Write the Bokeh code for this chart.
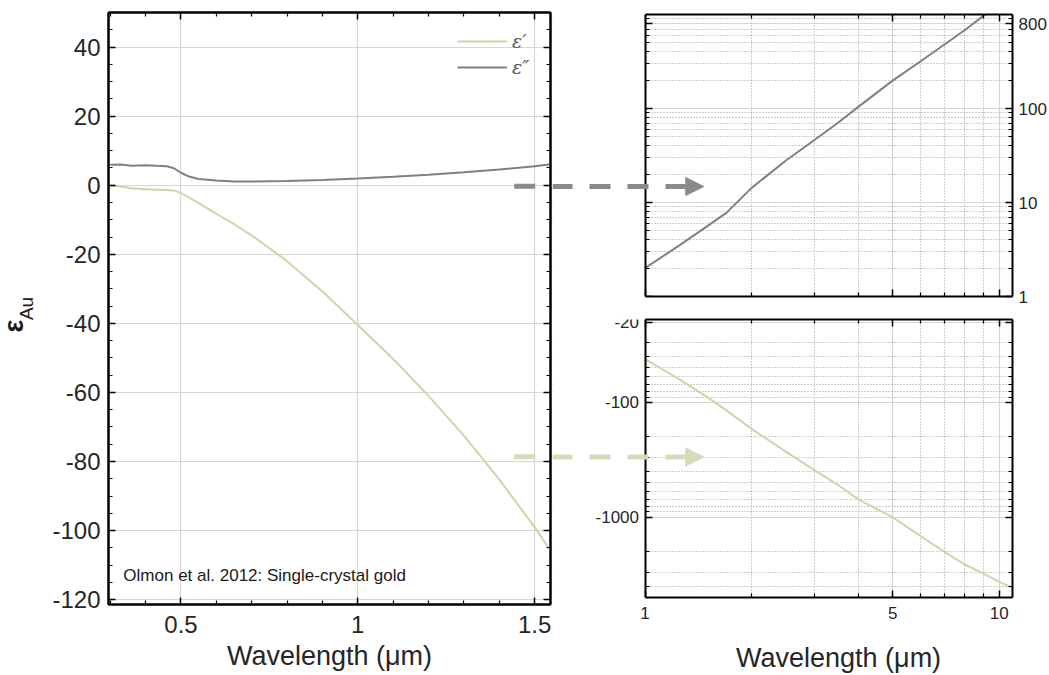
from bokeh.plotting import figure
from bokeh.layouts import row, column
from bokeh.models import (Range1d, FixedTicker, SingleIntervalTicker, LinearAxis, LogAxis,
                          Legend, LegendItem, Label, Arrow, NormalHead, CustomJSTickFormatter,
                          Title, BoxAnnotation, Div)
from bokeh.embed import file_html
from bokeh.resources import INLINE

# ---- Olmon et al. 2012, single-crystal gold -------------------------------
# visible / near-IR part (linear axes)
wl_vis = [0.30, 0.33, 0.36, 0.40, 0.43, 0.46, 0.48, 0.50, 0.52, 0.55, 0.60, 0.65,
          0.70, 0.80, 0.90, 1.00, 1.10, 1.20, 1.30, 1.40, 1.50, 1.55]
eps1_vis = [0.0, -0.4, -0.9, -1.2, -1.3, -1.4, -1.5, -2.3, -3.4, -5.2, -8.3, -11.3,
            -14.5, -22.0, -30.8, -40.5, -50.3, -61.0, -72.5, -85.2, -99.0, -106.6]
eps2_vis = [5.9, 6.0, 5.6, 5.8, 5.6, 5.5, 4.9, 3.6, 2.6, 1.8, 1.35, 1.1,
            1.05, 1.2, 1.5, 1.95, 2.45, 3.05, 3.75, 4.55, 5.5, 6.1]

# mid-IR part (log axes)
wl_ir = [1.0, 1.25, 1.5, 1.7, 2.0, 2.5, 3.0, 3.5, 4.0, 5.0, 6.0, 7.0, 8.0, 9.0, 10.0, 11.0]
eps2_ir = [2.0, 3.5, 5.6, 7.8, 14.3, 28, 46, 70, 104, 198, 318, 480, 685, 960, 1300, 1700]
eps1_ir = [-42, -63, -90, -118, -170, -270, -387, -522, -700, -1000, -1460, -2000,
           -2580, -3080, -3650, -4150]

# tick positions
vis_x_major = [0.5, 1.0, 1.5]
vis_x_minor = [0.3, 0.4, 0.6, 0.7, 0.8, 0.9, 1.1, 1.2, 1.3, 1.4]
ir_x_major = [1, 5, 10]
ir_x_minor = [2, 3, 4, 6, 7, 8, 9]
eps2_y_major = [1, 10, 100, 800]
eps2_y_minor = [2, 3, 4, 5, 6, 7, 8, 9, 10, 20, 30, 40, 50, 60, 70, 80, 90, 100,
                200, 300, 400, 500, 600, 700, 800, 900]
eps1_y_major = [20, 100, 1000]
eps1_y_minor = [30, 40, 50, 60, 70, 80, 90, 200, 300, 400, 500, 600, 700, 800, 900,
                2000, 3000, 4000]

OLIVE = "#cfd5a7"
OLIVE_ARROW = "#d6dbb9"
GRAY = "#808080"
GRAY_ARROW = "#8a8a8a"
FONT = "Liberation Sans"
TXT = "#262626"

IR_RANGE = (0.548, 10.9)   # part of the frame left of x = 1 is the gap holding the arrows
IR_BOUNDS = (1, 10.9)


def style_axis(ax, size, labels=True, standoff=6):
    ax.axis_line_color = "black"
    ax.axis_line_width = 2
    ax.major_tick_in = 7
    ax.major_tick_out = 0
    ax.minor_tick_in = 4
    ax.minor_tick_out = 0
    ax.major_tick_line_color = "black"
    ax.minor_tick_line_color = "black"
    ax.major_tick_line_width = 1.5
    ax.minor_tick_line_width = 1.2
    ax.major_label_text_font = FONT
    if labels:
        ax.major_label_text_color = TXT
        ax.major_label_text_font_size = f"{size}px"
        ax.major_label_standoff = standoff
    else:
        ax.major_label_text_color = None
        ax.major_label_text_font_size = "1px"
        ax.major_label_standoff = 0
    ax.axis_label_text_font = FONT
    ax.axis_label_text_font_style = "normal"
    ax.axis_label_text_color = TXT


def style_grid(p):
    for g in (p.xgrid, p.ygrid):
        g.grid_line_color = "#d6d6d6"
        g.grid_line_width = 1.2
        g.minor_grid_line_color = "#9c9c9c"
        g.minor_grid_line_dash = "1 2"
        g.minor_grid_line_width = 1


plain = CustomJSTickFormatter(code="return tick.toString();")
negated = CustomJSTickFormatter(code="return '-' + tick.toString();")

# ---------------------------------------------------------------- left panel
vx_ticker = FixedTicker(ticks=vis_x_major, minor_ticks=vis_x_minor)
vy_ticker = SingleIntervalTicker(interval=20, num_minor_ticks=4)

left = figure(width=552, height=675, x_range=Range1d(0.295, 1.545),
              y_range=Range1d(-121.4, 50.0), output_backend="svg",
              toolbar_location=None, min_border_left=108, min_border_right=2,
              min_border_top=12, min_border_bottom=71)
left.background_fill_color = "white"
left.border_fill_color = "white"
left.outline_line_color = "black"
left.outline_line_width = 2

lx = left.below[0]
ly = left.left[0]
lx.ticker = vx_ticker
left.xgrid.ticker = vx_ticker
ly.ticker = vy_ticker
left.ygrid.ticker = vy_ticker
lx.formatter = plain
ly.formatter = plain
style_axis(lx, 24, standoff=11)
style_axis(ly, 24, standoff=8)
lx.axis_label = "Wavelength (μm)"
lx.axis_label_text_font_size = "27px"
lx.axis_label_standoff = 5
# y title: subscript part sits next to the tick labels, the bold epsilon outside it
ly.axis_label = "Au"
ly.axis_label_text_font_size = "19px"
ly.axis_label_standoff = 12
ly.axis_label_text_color = "#1a1a1a"
style_grid(left)
left.xgrid.minor_grid_line_color = None
left.ygrid.minor_grid_line_color = None

top_ax = LinearAxis(ticker=vx_ticker)
style_axis(top_ax, 0, labels=False)
left.add_layout(top_ax, "above")
right_ax = LinearAxis(ticker=vy_ticker)
style_axis(right_ax, 0, labels=False)
left.add_layout(right_ax, "right")

left.add_layout(Title(text="ε", align="left", offset=272, standoff=-33,
                      vertical_align="middle", text_font=FONT, text_font_size="27px",
                      text_font_style="bold", text_color="#1a1a1a"), "left")

r_eps1 = left.line(wl_vis, eps1_vis, line_color=OLIVE, line_width=2)
r_eps2 = left.line(wl_vis, eps2_vis, line_color=GRAY, line_width=2)

legend = Legend(items=[LegendItem(label="ε′", renderers=[r_eps1]),
                       LegendItem(label="ε″", renderers=[r_eps2])],
                location="top_right", background_fill_alpha=0, border_line_alpha=0,
                label_text_font="DejaVu Serif", label_text_font_style="italic",
                label_text_font_size="19px", label_text_color="#555555",
                glyph_width=50, glyph_height=20, spacing=4, label_standoff=5,
                padding=8, margin=10)
left.add_layout(legend)

left.add_layout(Label(x=0.337, y=-113, text="Olmon et al. 2012: Single-crystal gold",
                      text_font=FONT, text_font_size="17px", text_color="#1a1a1a",
                      text_baseline="middle"))

# dashed arrow shafts, first part (continued in the right-hand panels)
left.add_layout(Arrow(end=None, x_start=1.4423, y_start=-0.3, x_end=1.60, y_end=-0.3,
                      line_color=GRAY_ARROW, line_width=5, line_dash="21 17"))
left.add_layout(Arrow(end=None, x_start=1.4423, y_start=-78.6, x_end=1.60, y_end=-78.6,
                      line_color=OLIVE_ARROW, line_width=5, line_dash="21 17"))

ix_ticker = FixedTicker(ticks=ir_x_major, minor_ticks=ir_x_minor)


def ir_frame(p, y_ticker, y_formatter, left_labels, right_labels, bottom_labels):
    """Frame for a log-log panel whose visible box starts at x = 1."""
    p.border_fill_color = "white"
    p.background_fill_color = "white"
    p.outline_line_color = None
    bax = p.below[0]
    rax = p.right[0]
    bax.ticker = ix_ticker
    bax.bounds = IR_BOUNDS
    bax.formatter = plain
    style_axis(bax, 17, labels=bottom_labels, standoff=9)
    p.xgrid.ticker = ix_ticker
    p.ygrid.ticker = y_ticker
    style_grid(p)
    # blank out the gap left of x = 1 (grid lines run across the whole frame)
    p.add_layout(BoxAnnotation(right=1, fill_color="white", fill_alpha=1,
                               line_color=None, level="underlay"))
    top = LogAxis(ticker=ix_ticker, bounds=IR_BOUNDS)
    style_axis(top, 0, labels=False)
    p.add_layout(top, "above")
    rax.ticker = y_ticker
    rax.formatter = y_formatter
    style_axis(rax, 17, labels=right_labels, standoff=6)
    lax = LogAxis(ticker=y_ticker, fixed_location=1, formatter=y_formatter)
    style_axis(lax, 17, labels=left_labels, standoff=6)
    p.add_layout(lax, "left")
    return bax


# -------------------------------------------------------- top-right: eps''
e2_ticker = FixedTicker(ticks=eps2_y_major, minor_ticks=eps2_y_minor)
tr = figure(width=497, height=307, x_axis_type="log", y_axis_type="log",
            x_range=Range1d(*IR_RANGE), y_range=Range1d(1, 1000),
            y_axis_location="right", output_backend="svg", toolbar_location=None,
            min_border_left=0, min_border_right=35, min_border_top=14,
            min_border_bottom=11)
ir_frame(tr, e2_ticker, plain, left_labels=False, right_labels=True, bottom_labels=False)

tr.line(wl_ir, eps2_ir, line_color=GRAY, line_width=2)
tr.add_layout(Arrow(end=NormalHead(size=18, fill_color=GRAY_ARROW, line_color=GRAY_ARROW,
                                   line_width=1),
                    x_start=IR_RANGE[0], y_start=14.8, x_end=1.465, y_end=14.8,
                    line_color=GRAY_ARROW, line_width=5, line_dash="21 17",
                    line_dash_offset=1))

# ----------------------------------------------------- bottom-right: -eps'
e1_ticker = FixedTicker(ticks=eps1_y_major, minor_ticks=eps1_y_minor)
neg_eps1_ir = [-v for v in eps1_ir]

br = figure(width=497, height=335, x_axis_type="log", y_axis_type="log",
            x_range=Range1d(*IR_RANGE), y_range=Range1d(5000, 19),
            y_axis_location="right", output_backend="svg", toolbar_location=None,
            min_border_left=0, min_border_right=35, min_border_top=12,
            min_border_bottom=45)
ir_frame(br, e1_ticker, negated, left_labels=True, right_labels=False, bottom_labels=True)

br.line(wl_ir, neg_eps1_ir, line_color=OLIVE, line_width=2)
br.add_layout(Arrow(end=NormalHead(size=18, fill_color=OLIVE_ARROW, line_color=OLIVE_ARROW,
                                   line_width=1),
                    x_start=IR_RANGE[0], y_start=299, x_end=1.465, y_end=299,
                    line_color=OLIVE_ARROW, line_width=5, line_dash="21 17",
                    line_dash_offset=1))

# x title, centred under the visible box (x >= 1) of the log-log panels
ir_title = Div(text=("<div style=\"margin:0 0 0 184px; font-family:'Liberation Sans';"
                     " font-size:27px; line-height:33px; color:#262626;"
                     " white-space:nowrap\">Wavelength (μm)</div>"),
               width=497, height=33, margin=0)

layout = row(left, column(tr, br, ir_title, spacing=0), spacing=0)

with open("out.html", "w") as f:
    f.write(file_html(layout, INLINE))
